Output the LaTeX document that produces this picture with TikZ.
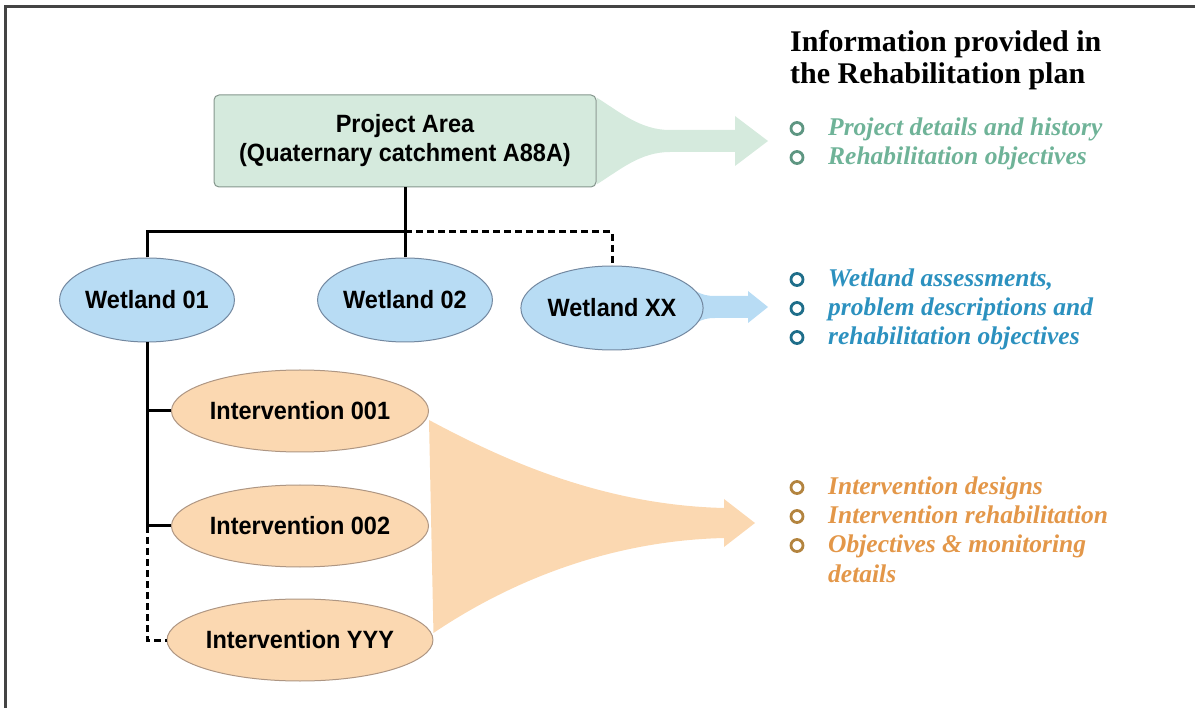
\documentclass[tikz,border=0pt]{standalone}
\usepackage{fontspec}
\setmainfont{Liberation Serif}
\setsansfont[FakeStretch=0.94]{Liberation Sans}
\usetikzlibrary{shapes.geometric, calc, backgrounds}

\definecolor{areafill}{HTML}{D5EADD}
\definecolor{areadraw}{HTML}{85968D}
\definecolor{wetfill}{HTML}{B8DCF4}
\definecolor{wetdraw}{HTML}{7388A0}
\definecolor{intfill}{HTML}{FBD8B1}
\definecolor{intdraw}{HTML}{AE9683}
\definecolor{areatext}{HTML}{6FB398}
\definecolor{areadot}{HTML}{5E9682}
\definecolor{wettext}{HTML}{2C91BF}
\definecolor{wetdot}{HTML}{1F6E8A}
\definecolor{inttext}{HTML}{E39749}
\definecolor{intdot}{HTML}{B3843F}
\definecolor{framegray}{HTML}{444444}

\begin{document}
\begin{tikzpicture}[
  x=1pt, y=-1pt,
  lbl/.style={font=\sffamily\bfseries\fontsize{25}{29}\selectfont, inner sep=0pt, line width=1pt},
  area/.style={lbl, draw=areadraw, fill=areafill, rounded corners=5pt,
               minimum width=382pt, minimum height=92pt, align=center},
  wet/.style={lbl, ellipse, draw=wetdraw, fill=wetfill, minimum width=144pt, minimum height=84pt},
  intv/.style={lbl, ellipse, draw=intdraw, fill=intfill, minimum width=257pt, minimum height=82pt},
  tie/.style={line width=3pt},
  tiedash/.style={tie, dash pattern=on 7pt off 4pt},
  info/.style={anchor=base west, inner sep=0pt, font=\bfseries\itshape\fontsize{25.5}{29}\selectfont},
  dot/.style={circle, line width=2.8pt, minimum size=12pt, inner sep=0pt}
]
\useasboundingbox (0,0) rectangle (1195,708);
\draw[framegray, line width=3pt] (5,708) -- (5,7) -- (1195,7);

\node[area] (area) at (405,141) {Project Area\\(Quaternary catchment A88A)};
\node[wet] (w1) at (147,300) {Wetland 01};
\node[wet] (w2) at (405,300) {Wetland 02};
\node[wet] (wx) at (612,308) {Wetland XX};
\node[intv] (i1) at (300,411) {Intervention 001};
\node[intv] (i2) at (300,526) {Intervention 002};
\node[intv] (i3) at (300,640) {Intervention YYY};

\coordinate (fork) at (405,232);
\coordinate (spine) at (w1.south |- i2.west);
\draw[tie] (area.south) -- (fork);
\draw[tie] (w1.north) -- (w1.north |- fork) -- (fork) -- (w2.north);
\draw[tiedash] (fork) -- (fork -| wx.north) -- (wx.north);
\draw[tie] (w1.south) -- (spine) -- (i2.west);
\draw[tie] (w1.south |- i1.west) -- (i1.west);
\draw[tiedash] (spine) -- (spine |- i3.west) -- (i3.west);

\begin{scope}[on background layer]
\coordinate (gtip) at (768,141);
\coordinate (btip) at (768,307);
\coordinate (otip) at (755,523);
\fill[areafill] ($(area.north east)+(0,3)$) .. controls (620,112) and (640,130) .. (670,130)
  -- (735,130) -- (735,116) -- (gtip) -- (735,166) -- (735,152) -- (670,152)
  .. controls (640,152) and (620,170) .. ($(area.south east)+(0,-3)$) -- cycle;
\fill[wetfill] (wx.28) .. controls (695,291) and (700,296) .. (715,296)
  -- (748,296) -- (748,291) -- (btip) -- (748,323) -- (748,318) -- (715,318)
  .. controls (700,318) and (695,323) .. (wx.-28) -- cycle;
\fill[intfill] ($(i1.east)+(0,9)$) .. controls (500,458) and (600,505) .. (724,508)
  -- (724,499) -- (otip) -- (724,547) -- (724,538)
  .. controls (600,541) and (500,588) .. ($(i3.east)+(0,-7)$) -- cycle;
\end{scope}

\node[anchor=north west, inner sep=0pt, align=left, font=\bfseries\fontsize{30}{32}\selectfont]
  (title) at (790,30) {Information provided in\\the Rehabilitation plan};

\foreach \txt [count=\k] in {Project details and history, Rehabilitation objectives} {
  \node[info, text=areatext] (g\k) at (828,107+29*\k) {\txt};
  \node[dot, draw=areadot] (gd\k) at (797,99.5+29*\k) {};
}
\foreach \txt [count=\k] in {{Wetland assessments,}, problem descriptions and, rehabilitation objectives} {
  \node[info, text=wettext] (b\k) at (828,258+29*\k) {\txt};
  \node[dot, draw=wetdot] (bd\k) at (797,250.5+29*\k) {};
}
\foreach \txt [count=\k] in {Intervention designs, Intervention rehabilitation, Objectives \& monitoring} {
  \node[info, text=inttext] (o\k) at (828,466+29*\k) {\txt};
  \node[dot, draw=intdot] (od\k) at (797,458.5+29*\k) {};
}
\node[info, text=inttext] (o4) at (828,582) {details};
\end{tikzpicture}
\end{document}
